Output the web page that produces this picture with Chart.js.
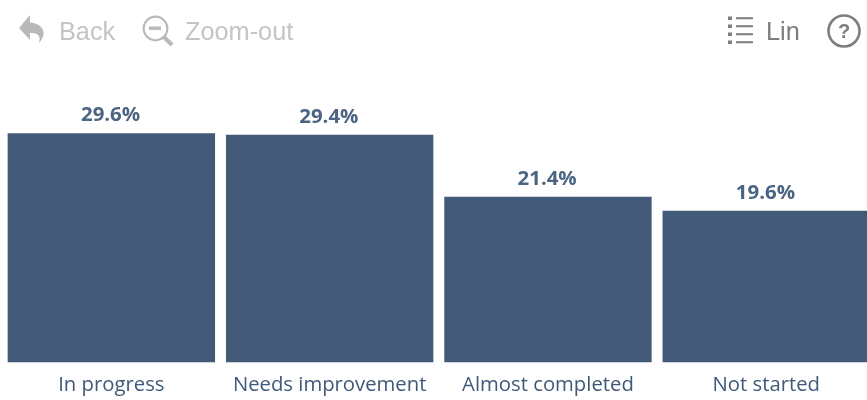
<!DOCTYPE html>
<html>
<head>
<meta charset="utf-8">
<script src="https://cdn.jsdelivr.net/npm/chart.js@4/dist/chart.umd.min.js"></script>
<style>
  html, body { margin: 0; padding: 0; background: #fff; overflow: hidden; width: 867px; height: 400px; }
  #wrap { position: absolute; left: 0; top: 0; width: 880px; height: 400px; }
  .tool { position: absolute; top: 16px; font: 25.3px "Liberation Sans", Arial, sans-serif; line-height: 30px; white-space: nowrap; }
  .off { color: #c4c4c4; }
  .on { color: #7d7d7d; }
  svg.icon { position: absolute; }
</style>
</head>
<body>
<div id="wrap"><canvas id="chart" width="880" height="400"></canvas></div>

<svg class="icon" style="left:18px;top:14px" width="30" height="32" viewBox="0 0 30 32">
  <path d="M1 14 L12 1 L12 8.5 C23 9 31 18 21 29 C23 22 20 18.500 12 19 L12 26 Z" fill="#b9b9b9"/>
</svg>
<div class="tool off" style="left:59px">Back</div>
<svg class="icon" style="left:142px;top:15px" width="32" height="32" viewBox="0 0 32 32">
  <circle cx="13.500" cy="13.500" r="11.800" fill="none" stroke="#b9b9b9" stroke-width="2.200"/>
  <rect x="7" y="11.500" width="12" height="3.400" fill="#b9b9b9"/>
  <path d="M22 22 L30 30" stroke="#b9b9b9" stroke-width="4"/>
</svg>
<div class="tool off" style="left:185px">Zoom-out</div>

<svg class="icon" style="left:727px;top:15px" width="28" height="30" viewBox="0 0 28 30">
  <g fill="#7d7d7d">
    <rect x="1" y="1.500" width="4" height="3.500"/><rect x="9" y="2.200" width="17" height="2"/>
    <rect x="1" y="9.500" width="4" height="3.500"/><rect x="9" y="10.200" width="17" height="2"/>
    <rect x="1" y="17.500" width="4" height="3.500"/><rect x="9" y="18.200" width="17" height="2"/>
    <rect x="1" y="25.500" width="4" height="3.500"/><rect x="9" y="26.200" width="17" height="2"/>
  </g>
</svg>
<div class="tool on" style="left:766px">Lin</div>
<svg class="icon" style="left:825.500px;top:13px" width="36" height="36" viewBox="0 0 36 36">
  <circle cx="18" cy="18" r="15.500" fill="none" stroke="#7d7d7d" stroke-width="2.600"/>
  <text x="18" y="25" text-anchor="middle" font-family="Liberation Sans, Arial, sans-serif" font-weight="bold" font-size="20" fill="#7d7d7d">?</text>
</svg>

<script>
const categories = ["In progress", "Needs improvement", "Almost completed", "Not started"];
const shares = [29.6, 29.4, 21.4, 19.6];

const barColor = "#425a78";
const textColor = "#3f5a78";

// percent label above each bar
const valueLabels = {
  id: "valueLabels",
  afterDatasetsDraw(chart) {
    const ctx = chart.ctx;
    ctx.save();
    ctx.font = "bold 20.4px 'Open Sans', sans-serif";
    ctx.fillStyle = "#4a6482";
    ctx.textAlign = "center";
    ctx.textBaseline = "alphabetic";
    chart.getDatasetMeta(0).data.forEach((bar, i) => {
      ctx.fillText(shares[i].toFixed(1) + "%", bar.x - 0.8, bar.y - 12);
    });
    ctx.restore();
  }
};

new Chart(document.getElementById("chart"), {
  type: "bar",
  data: {
    labels: categories,
    datasets: [{
      data: shares,
      backgroundColor: barColor,
      categoryPercentage: 0.95,
      barPercentage: 1
    }]
  },
  options: {
    responsive: false,
    animation: false,
    layout: { padding: { top: 52.8, left: 2.2, right: 4.6, bottom: 0 } },
    plugins: { legend: { display: false }, tooltip: { enabled: false } },
    scales: {
      x: {
        grid: { display: false },
        border: { display: false },
        afterFit(scale) { scale.height = 37.5; },
        ticks: {
          color: textColor,
          padding: 3,
          maxRotation: 0,
          font: { family: "'Open Sans', sans-serif", size: 20.3 }
        }
      },
      y: { display: false, min: 0, max: 40 }
    }
  },
  plugins: [valueLabels]
});
</script>
</body>
</html>
